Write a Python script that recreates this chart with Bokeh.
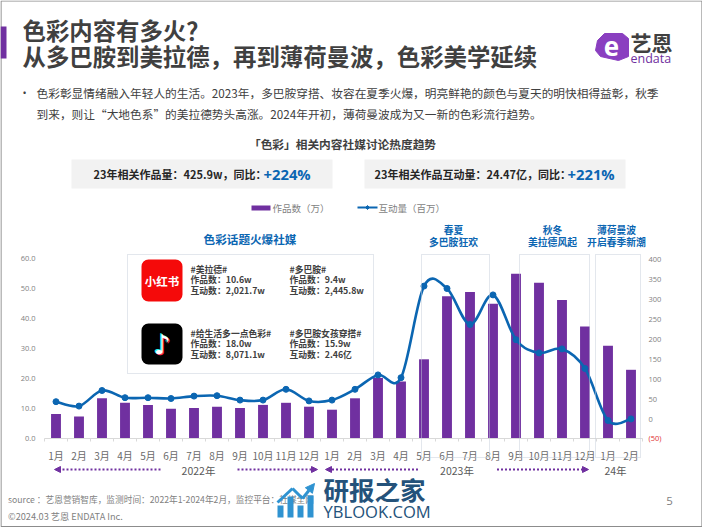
from bokeh.plotting import figure
from bokeh.models import (Range1d, LinearAxis, FixedTicker, NumeralTickFormatter, Label,
                          BoxAnnotation, Arrow, NormalHead, PolyAnnotation, ColumnDataSource)
from bokeh.embed import file_html
from bokeh.resources import INLINE

# ---------- data ----------
months = ["1月","2月","3月","4月","5月","6月","7月","8月","9月","10月","11月","12月",
          "1月","2月","3月","4月","5月","6月","7月","8月","9月","10月","11月","12月",
          "1月","2月"]
works = [8.2,7.3,13.4,11.9,11.2,9.9,10.2,10.6,10.2,11.2,11.9,10.6,
         9.6,13.4,20.2,19.0,26.4,47.4,48.8,44.9,54.9,51.9,46.2,37.3,
         30.9,22.9]
interactions = [42,31,70,52,52,50,56,57,46,46,73,44,
                46,73,109,102,331,325,235,309,197,164,174,125,
                -5,-1]
left_ticks = [0,10,20,30,40,50,60]
right_ticks = [-50,0,50,100,150,200,250,300,350,400]

title_lines = ["色彩内容有多火？", "从多巴胺到美拉德，再到薄荷曼波，色彩美学延续"]
body_lines = ["色彩彰显情绪融入年轻人的生活。2023年，多巴胺穿搭、妆容在夏季火爆，明亮鲜艳的颜色与夏天的明快相得益彰，秋季",
              "到来，则让“大地色系”的美拉德势头高涨。2024年开初，薄荷曼波成为又一新的色彩流行趋势。"]
PURPLE, BLUE, GREY, DARK = "#7030a0", "#0b66b2", "#7f7f7f", "#404040"
CJK = "Noto Sans CJK SC"

# page geometry in page pixels
W, H = 702, 527
FL, FR, FT, FB = 44, 642, 258, 438        # plot area
PXX = (FR-FL)/26                          # px per month
PXL = (FB-FT)/60                          # px per left-axis unit
PXR = (FB-FT)/450                         # px per right-axis unit

x_start = -0.5 - FL/PXX
x_end = -0.5 + (W-FL)/PXX
p = figure(width=W, height=H, output_backend="svg", toolbar_location=None,
           x_range=Range1d(x_start, x_end),
           y_range=Range1d((FB-H)/PXL, FB/PXL),
           min_border_left=0, min_border_right=0, min_border_top=0, min_border_bottom=0,
           outline_line_color=None, background_fill_color="white")
p.grid.visible = False
p.xaxis.visible = False
p.yaxis.visible = False
p.extra_y_ranges = {"right": Range1d(-50-(H-FB)/PXR, -50+FB/PXR)}

# axes, pinned inside the page-sized frame
ax = LinearAxis(ticker=FixedTicker(ticks=list(range(26)), minor_ticks=[i-0.5 for i in range(27)]),
                major_label_overrides={i: m for i, m in enumerate(months)},
                fixed_location=0, bounds=(-0.5, 25.5))
ax.major_tick_line_color = None
ax.major_tick_out = 0
ax.major_tick_in = 0
ax.minor_tick_line_color = "#d9d9d9"
ax.minor_tick_out = 3
ax.minor_tick_in = 0
ax.axis_line_color = "#d9d9d9"
ax.major_label_text_font = CJK
ax.major_label_text_font_size = "10px"
ax.major_label_text_color = "#6a6a6a"
ax.major_label_standoff = 6
p.add_layout(ax, "below")

ay = LinearAxis(ticker=FixedTicker(ticks=left_ticks), formatter=NumeralTickFormatter(format="0.0"),
                fixed_location=-0.5)
ay.axis_line_color = None
ay.major_tick_line_color = None
ay.major_tick_out = 0
ay.major_tick_in = 0
ay.minor_tick_line_color = None
ay.major_label_text_font = "Open Sans"
ay.major_label_text_font_size = "7.5px"
ay.major_label_text_color = GREY
ay.major_label_standoff = 9
p.add_layout(ay, "left")

ar = LinearAxis(y_range_name="right", ticker=FixedTicker(ticks=right_ticks),
                major_label_overrides={-50: " "}, fixed_location=25.5)
ar.axis_line_color = None
ar.major_tick_line_color = None
ar.major_tick_out = 0
ar.major_tick_in = 0
ar.minor_tick_line_color = None
ar.major_label_text_font = "Open Sans"
ar.major_label_text_font_size = "7.5px"
ar.major_label_text_color = GREY
ar.major_label_standoff = 6
p.add_layout(ar, "right")

# marks
x = list(range(len(months)))
p.vbar(x=x, top=works, bottom=0, width=0.43, fill_color=PURPLE, line_color=None)

def smooth(xs, ys):
    d = dict(x0=[], y0=[], x1=[], y1=[], cx0=[], cy0=[], cx1=[], cy1=[])
    n = len(xs)
    for i in range(n-1):
        a, b = max(i-1, 0), min(i+2, n-1)
        d["x0"].append(xs[i]); d["y0"].append(ys[i])
        d["x1"].append(xs[i+1]); d["y1"].append(ys[i+1])
        d["cx0"].append(xs[i]+(xs[i+1]-xs[a])/6); d["cy0"].append(ys[i]+(ys[i+1]-ys[a])/6)
        d["cx1"].append(xs[i+1]-(xs[b]-xs[i])/6); d["cy1"].append(ys[i+1]-(ys[b]-ys[i])/6)
    return d

p.bezier(x0="x0", y0="y0", x1="x1", y1="y1", cx0="cx0", cy0="cy0", cx1="cx1", cy1="cy1",
         source=ColumnDataSource(smooth(x, interactions)), y_range_name="right",
         line_color=BLUE, line_width=2.6)
p.scatter(x=x, y=interactions, y_range_name="right", size=6, marker="circle",
          fill_color=BLUE, line_color=BLUE)

# page-pixel helpers
def sx(v): return v
def sy(v): return H - v

def T(tx, ty, text, size, color=DARK, bold=False, align="left", font=CJK, base="middle"):
    p.add_layout(Label(x=sx(tx), y=sy(ty), x_units="screen", y_units="screen", text=text,
                       text_font=font, text_font_size=f"{size}px", text_color=color,
                       text_font_style="bold" if bold else "normal",
                       text_align=align, text_baseline=base))

def B(l, t, r, b, fill=None, line=None, radius=0, dash="solid", lw=1):
    p.add_layout(BoxAnnotation(left=sx(l), right=sx(r), top=sy(t), bottom=sy(b),
                               left_units="screen", right_units="screen",
                               top_units="screen", bottom_units="screen",
                               fill_color=fill, fill_alpha=1 if fill else 0,
                               line_color=line, line_dash=dash, line_width=lw,
                               line_alpha=1 if line else 0,
                               border_radius=radius, level="annotation"))

def A(x0, y0, x1, y1, color=PURPLE, dash="2 2", lw=2, head=6):
    p.add_layout(Arrow(x_start=sx(x0), y_start=sy(y0), x_end=sx(x1), y_end=sy(y1),
                       start_units="screen", end_units="screen",
                       line_color=color, line_width=lw, line_dash=dash,
                       end=NormalHead(size=head, fill_color=color, line_color=color) if head else None))

def P(pts, color):
    p.add_layout(PolyAnnotation(xs=[sx(a) for a, _ in pts], ys=[sy(b) for _, b in pts],
                                xs_units="screen", ys_units="screen",
                                fill_color=color, fill_alpha=1, line_color=color, line_alpha=1))

# page frame
B(0.5, 0.5, 701.5, 526, line="#8c8c8c", lw=1.2)

# header
B(0, 26, 6, 58, fill=PURPLE)
T(22, 29, title_lines[0], 23.4, bold=True)
T(22, 55, title_lines[1], 23.4, bold=True)
T(22, 92, "•", 11, font="Open Sans")
T(36, 92, body_lines[0], 11.7)
T(36, 113, body_lines[1], 11.7)

# logo
P([(604,33),(622,33),(628,38),(628,56),(618,60),(600,56),(595,50),(597,40)], "#8a3fc0")
T(611, 46, "e", 26, color="white", bold=True, align="center", font="Open Sans")
T(630, 41, "艺恩", 21, bold=True)
T(630, 57.5, "endata", 12.5, color=PURPLE, font="Open Sans")

# subtitle and KPI bands
T(342, 143, "「色彩」相关内容社媒讨论热度趋势", 11.7, bold=True, align="center")
B(71, 159, 332, 188, fill="#f2f2f2")
B(364, 159, 625, 188, fill="#f2f2f2")
T(93, 173.5, "23年相关作品量：425.9w，同比：", 11, color="#262626", bold=True)
T(263, 173, "+224%", 14.8, color=BLUE, bold=True, font="Open Sans")
T(374, 173.5, "23年相关作品互动量：24.47亿，同比：", 11, color="#262626", bold=True)
T(567, 173, "+221%", 14.8, color=BLUE, bold=True, font="Open Sans")

# legend
B(251, 205, 270, 210, fill=PURPLE)
T(272, 207, "作品数（万）", 9.5, color=GREY)
A(357, 207, 377, 207, color=BLUE, dash="solid", lw=2, head=0)
P([(365,207),(367,205),(369,207),(367,209)], BLUE)
T(378, 207, "互动量（百万）", 9.5, color=GREY)

# callouts
T(249.5, 238, "色彩话题火爆社媒", 11.6, color=BLUE, bold=True, align="center")
T(453, 229, "春夏", 9.8, color=BLUE, bold=True, align="center")
T(453, 241.5, "多巴胺狂欢", 9.8, color=BLUE, bold=True, align="center")
T(552, 229, "秋冬", 9.8, color=BLUE, bold=True, align="center")
T(552, 241.5, "美拉德风起", 9.8, color=BLUE, bold=True, align="center")
T(616, 229, "薄荷曼波", 9.8, color=BLUE, bold=True, align="center")
T(616, 241.5, "开启春季新潮", 9.8, color=BLUE, bold=True, align="center")

# dotted boxes
DOT = "#c6cedb"
B(127, 254, 373, 373, line=DOT, dash="1 1")
B(421, 254, 489, 457, line=DOT, dash="1 1")
B(519, 254, 589, 457, line=DOT, dash="1 1")
B(595, 254, 640, 457, line=DOT, dash="1 1")

# social cards
B(141, 259, 182, 301, fill="#f50a0a", radius=7)
T(161.5, 280.5, "小红书", 11.5, color="white", bold=True, align="center")
B(141, 323, 182, 364, fill="#000000", radius=7)
T(160.5, 342.5, "♪", 27, color="#25f4ee", bold=True, align="center", font="DejaVu Sans")
T(162.5, 344.5, "♪", 27, color="#fe2c55", bold=True, align="center", font="DejaVu Sans")
T(161.5, 343.5, "♪", 27, color="white", bold=True, align="center", font="DejaVu Sans")

cards = [(190, 269, ["#美拉德#", "作品数：10.6w", "互动数：2,021.7w"]),
         (289, 269, ["#多巴胺#", "作品数：9.4w", "互动数：2,445.8w"]),
         (190, 333, ["#给生活多一点色彩#", "作品数：18.0w", "互动数：8,071.1w"]),
         (289, 333, ["#多巴胺女孩穿搭#", "作品数：15.9w", "互动数：2.46亿"])]
for cx, cy, rows in cards:
    for i, r in enumerate(rows):
        T(cx, cy + i*10.3, r, 8.8, bold=True)

# red tick of the right axis
T(648, 437.5, "(50)", 7.5, color="#e03030", font="Open Sans")

# year rows
A(160, 469, 54, 469)
T(198, 470, "2022年", 10.5, color="#595959", align="center")
A(237, 469, 317, 469)
A(417.5, 469, 325, 469)
T(456.5, 470, "2023年", 10.5, color="#595959", align="center")
A(496.5, 469, 588, 469)
T(615, 470, "24年", 10.5, color="#595959", align="center")

# footer
T(7.5, 499, "source ：艺恩营销智库，监测时间：2022年1-2024年2月，监控平台：社媒全网", 8.7, color=GREY)
T(7.5, 515, "©2024.03  艺恩 ENDATA Inc.", 9.2, color=GREY)
T(669, 500, "5", 11.5, color=GREY, align="center", font="Open Sans")

# watermark
WM, WN = "#2f93d1", "#24527a"
B(277, 505, 283, 517, fill=WM)
B(287, 496, 293, 517, fill=WM)
B(297, 505, 303, 517, fill=WM)
B(307, 495, 313, 517, fill=WM)
A(277, 502, 292, 488, color=WM, dash="solid", lw=3, head=0)
A(292, 488, 302, 498, color=WM, dash="solid", lw=3, head=0)
A(302, 498, 314, 483, color=WM, dash="solid", lw=3, head=9)
T(323, 488, "研报之家", 25.5, color=WN, bold=True)
T(323, 511, "YBLOOK.COM", 16.6, color=WN, font="Open Sans")

open("out.html", "w").write(file_html(p, INLINE))
